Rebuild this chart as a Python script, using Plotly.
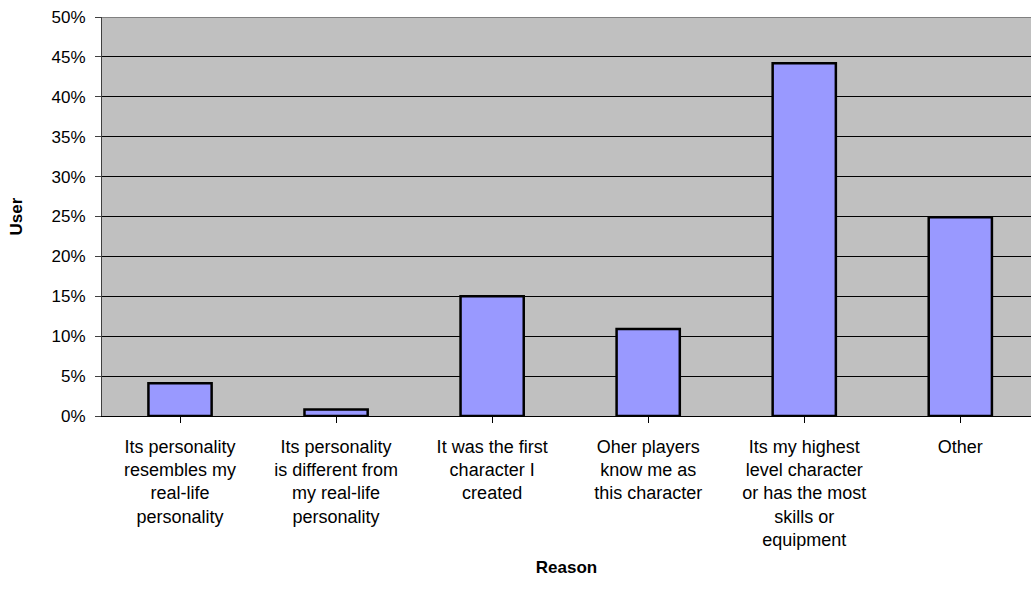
import plotly.graph_objects as go

categories = [
    "Its personality<br>resembles my<br>real-life<br>personality",
    "Its personality<br>is different from<br>my real-life<br>personality",
    "It was the first<br>character I<br>created",
    "Oher players<br>know me as<br>this character",
    "Its my highest<br>level character<br>or has the most<br>skills or<br>equipment",
    "Other",
]
values = [0.041, 0.008, 0.150, 0.109, 0.442, 0.249]
y_ticks = [0, 0.05, 0.10, 0.15, 0.20, 0.25, 0.30, 0.35, 0.40, 0.45, 0.50]

FONT = "Liberation Sans, Arial, sans-serif"

fig = go.Figure()
fig.add_trace(go.Bar(
    x=list(range(len(categories))),
    y=values,
    marker=dict(color="#9999FF", line=dict(color="black", width=2.5)),
    width=0.405,
))

fig.update_layout(
    width=1031, height=605,
    margin=dict(l=102, r=0, t=17, b=189),
    paper_bgcolor="white",
    plot_bgcolor="#C0C0C0",
    showlegend=False,
    font=dict(family=FONT, color="black", size=16),
)
fig.update_xaxes(
    tickmode="array",
    tickvals=list(range(len(categories))),
    ticktext=categories,
    range=[-0.5, 5.453],
    ticks="outside", ticklen=6, tickcolor="black", tickwidth=1,
    tickson="boundaries",
    ticklabelstandoff=8,
    ticklabeloverflow="allow",
    showgrid=False,
    showline=True, linecolor="black", linewidth=1,
    tickfont=dict(size=18, family=FONT),
    tickangle=0,
    title=dict(text="<b>Reason</b>", font=dict(size=17, family=FONT), standoff=11),
)
fig.update_yaxes(
    range=[0, 0.5],
    tickvals=y_ticks,
    tickformat=".0%",
    ticks="outside", ticklen=6, tickcolor="#404040", tickwidth=1,
    ticklabelstandoff=6,
    ticklabeloverflow="allow",
    showgrid=True, gridcolor="black", gridwidth=1,
    showline=True, linecolor="#404040", linewidth=1,
    zeroline=False,
    tickfont=dict(size=17, family=FONT),
    title=dict(text="<b>User</b>", font=dict(size=17, family=FONT), standoff=24),
)
fig.add_hline(y=0.5, line=dict(color="#808080", width=2))

fig.write_html(
    "out.html",
    config={"displayModeBar": False},
    post_script="document.body.style.margin='0';document.body.style.overflow='hidden';",
)
